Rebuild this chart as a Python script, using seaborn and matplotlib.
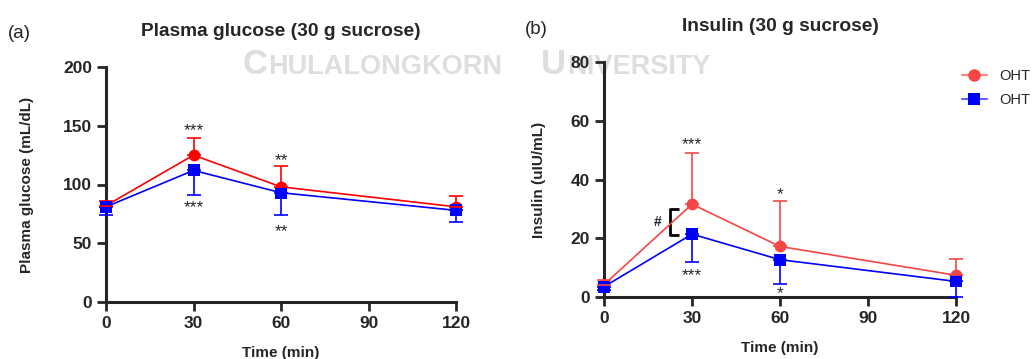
import numpy as np
import pandas as pd
import matplotlib
matplotlib.use("Agg")
import matplotlib.pyplot as plt
import seaborn as sns
from matplotlib.lines import Line2D

# ---------------- data ----------------
time_min = [0, 30, 60, 120]
group_labels = ["OHT", "OHT"]

glucose_red = [82, 125, 98, 81]
glucose_red_err = [4, 15, 18, 9]
glucose_blue = [81, 112, 93, 78]
glucose_blue_err = [7, 21, 19, 10]

insulin_red = [4.2, 31.6, 17.2, 7.4]
insulin_red_err = [1.5, 17.5, 15.6, 5.5]
insulin_blue = [3.5, 21.4, 12.7, 5.3]
insulin_blue_err = [1.2, 9.6, 8.4, 5.2]

glucose_ticks = [0, 50, 100, 150, 200]
insulin_ticks = [0, 20, 40, 60, 80]
time_ticks = [0, 30, 60, 90, 120]

# significance annotations: (x, y, text)
glucose_marks = [(30, 146, "***"), (30, 80, "***"), (60, 120, "**"), (60, 60, "**")]
insulin_marks = [(30, 52, "***"), (30, 7.2, "***"), (60, 35, "*"), (60, 1.3, "*")]

# ---------------- style ----------------
sns.set_style("ticks")
plt.rcParams["font.family"] = ["Liberation Sans", "DejaVu Sans"]

RED_A = "#FF0000"
RED_B = "#F54545"
BLUE = "#0000FF"
WM = "#DEDEDE"

W, H = 1035, 359
fig = plt.figure(figsize=(W / 100, H / 100), dpi=100)
renderer = fig.canvas.get_renderer()

# watermark (small-caps look): big initial, then rest placed right after it
wm_base = 1 - 74 / H
for x_px, big, rest in [(243, "C", "HULALONGKORN"), (541, "U", "NIVERSITY")]:
    t = fig.text(x_px / W, wm_base, big, fontsize=25, fontweight="bold", color=WM,
                 ha="left", va="baseline", zorder=-5)
    ext = t.get_window_extent(renderer)
    fig.text(ext.x1 / W + 0.5 / W, wm_base, rest, fontsize=19.5, fontweight="bold",
             color=WM, ha="left", va="baseline", zorder=-5)

ax1 = fig.add_axes([106 / W, 1 - 302 / H, 350 / W, 235 / H])
ax2 = fig.add_axes([604 / W, 1 - 297 / H, 352 / W, 235 / H])


def draw_panel(ax, red, red_err, blue, blue_err, red_color, ylim, yticks, marks,
               ylabel, title, ylabelpad):
    df = pd.DataFrame({
        "time": time_min * 2,
        "value": list(red) + list(blue),
        "group": ["red"] * len(time_min) + ["blue"] * len(time_min),
    })
    ax.errorbar(time_min, red, yerr=[np.zeros(len(red)), red_err], fmt="none",
                ecolor=red_color, elinewidth=1.2, capsize=5, capthick=1.2, zorder=3, clip_on=False)
    ax.errorbar(time_min, blue, yerr=[blue_err, np.zeros(len(blue))], fmt="none",
                ecolor=BLUE, elinewidth=1.2, capsize=5, capthick=1.2, zorder=3, clip_on=False)
    sns.lineplot(data=df, x="time", y="value", hue="group", style="group",
                 hue_order=["red", "blue"], style_order=["red", "blue"],
                 palette={"red": red_color, "blue": BLUE},
                 markers={"red": "o", "blue": "s"}, dashes=False,
                 markersize=8.5, markeredgewidth=0, linewidth=1.2,
                 ax=ax, legend=False, zorder=4)
    for line in ax.lines:
        line.set_clip_on(False)
    ax.lines[0].set_zorder(5)

    ax.set_xlim(0, 120)
    ax.set_ylim(*ylim)
    ax.set_xticks(time_ticks)
    ax.set_yticks(yticks)
    ax.tick_params(axis="both", length=6.5, width=2, labelsize=12.5, pad=3.5)
    for lab in ax.get_xticklabels() + ax.get_yticklabels():
        lab.set_fontweight("bold")
    for s in ["left", "bottom"]:
        ax.spines[s].set_linewidth(2.2)
    sns.despine(ax=ax)
    ax.set_xlabel("Time (min)", fontsize=11, fontweight="bold", labelpad=11)
    ax.set_ylabel(ylabel, fontsize=11, fontweight="bold", labelpad=ylabelpad)
    ax.set_title(title, fontsize=13.8, fontweight="bold", pad=22)
    for x, y, t in marks:
        ax.text(x, y, t, ha="center", va="center", fontsize=12.5)
    ax.patch.set_alpha(0)


draw_panel(ax1, glucose_red, glucose_red_err, glucose_blue, glucose_blue_err, RED_A,
           (0, 200), glucose_ticks, glucose_marks, "Plasma glucose (mL/dL)",
           "Plasma glucose (30 g sucrose)", 21)
draw_panel(ax2, insulin_red, insulin_red_err, insulin_blue, insulin_blue_err, RED_B,
           (0, 80), insulin_ticks, insulin_marks, "Insulin (uIU/mL)",
           "Insulin (30 g sucrose)", 18)

# bracket with '#'
ax2.plot([25.5, 22.5, 22.5, 25.5], [30, 30, 21, 21], color="black", lw=2, clip_on=False,
         solid_capstyle="butt")
ax2.text(18.3, 25.5, "#", ha="center", va="center", fontsize=10, fontweight="bold")

# panel letters
fig.text(8 / W, 1 - 33 / H, "(a)", fontsize=13.5, ha="left", va="center")
fig.text(525 / W, 1 - 29 / H, "(b)", fontsize=13.5, ha="left", va="center")

# legend
handles = [
    Line2D([0], [0], color="#FF8080", lw=1.5, marker="o", markersize=9,
           markerfacecolor=RED_B, markeredgewidth=0),
    Line2D([0], [0], color="#6060FF", lw=1.5, marker="s", markersize=8,
           markerfacecolor=BLUE, markeredgewidth=0),
]
fig.legend(handles, group_labels, loc="upper left", bbox_to_anchor=(962 / W, 1 - 69 / H),
           frameon=False, fontsize=10.5, handlelength=1.7, handletextpad=0.85,
           labelspacing=0.7, borderpad=0, borderaxespad=0)

fig.savefig("out.png", dpi=100)
